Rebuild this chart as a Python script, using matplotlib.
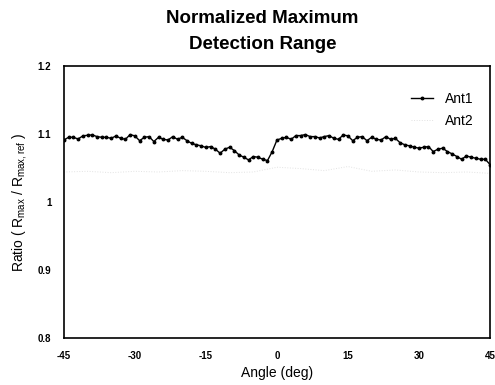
import matplotlib
matplotlib.use("Agg")
import matplotlib.pyplot as plt
from matplotlib.ticker import FuncFormatter

plt.rcParams['font.family'] = ['Liberation Sans', 'DejaVu Sans']
plt.rcParams['axes.unicode_minus'] = False

# Ant1, 1 degree steps from -45 to 45
angle1 = list(range(-45, 46))
ant1 = [1.091, 1.095, 1.095, 1.0925, 1.097, 1.098, 1.0985, 1.096, 1.095, 1.095,
        1.0935, 1.097, 1.0935, 1.092, 1.099, 1.097, 1.090, 1.095, 1.096, 1.0887,
        1.095, 1.092, 1.091, 1.096, 1.092, 1.095, 1.090, 1.086, 1.084, 1.0824,
        1.080, 1.0814, 1.0775, 1.0716, 1.0775, 1.0804, 1.0755, 1.0691, 1.0657, 1.0618,
        1.0667, 1.0657, 1.0627, 1.0608, 1.074, 1.091, 1.0935, 1.095, 1.092, 1.0975,
        1.0975, 1.099, 1.096, 1.096, 1.094, 1.096, 1.0975, 1.0935, 1.092, 1.0985,
        1.097, 1.090, 1.095, 1.096, 1.090, 1.095, 1.092, 1.091, 1.096, 1.092,
        1.0935, 1.087, 1.084, 1.0824, 1.0804, 1.079, 1.0804, 1.0814, 1.074, 1.0775,
        1.079, 1.074, 1.0706, 1.0667, 1.0627, 1.0676, 1.0657, 1.0642, 1.0627, 1.0627,
        1.0549]

# Ant2, faint trace in the scan
angle2 = list(range(-45, 46, 5))
ant2 = [1.044, 1.045, 1.043, 1.045, 1.044, 1.046, 1.045, 1.043, 1.044, 1.051,
        1.049, 1.046, 1.052, 1.045, 1.047, 1.044, 1.043, 1.044, 1.042]

xticks = [-45, -30, -15, 0, 15, 30, 45]
yticks = [0.8, 0.9, 1.0, 1.1, 1.2]

fig = plt.figure(figsize=(4.95, 3.85), dpi=100)
ax = fig.add_axes([0.129, 0.122, 0.861, 0.707])

ax.plot(angle1, ant1, color='black', marker='o', markersize=1.8, linewidth=1.0, label='Ant1')
ax.plot(angle2, ant2, color='#e2e2e2', linestyle=':', linewidth=0.7, label='Ant2')

ax.set_xlim(-45, 45)
ax.set_ylim(0.8, 1.2)
ax.set_xticks(xticks)
ax.set_yticks(yticks)
ax.yaxis.set_major_formatter(FuncFormatter(lambda v, p: '1' if abs(v - 1) < 1e-9 else '%.1f' % v))
ax.tick_params(length=0, labelsize=7, pad=9)
for lab in ax.get_xticklabels() + ax.get_yticklabels():
    lab.set_fontweight('bold')
for s in ax.spines.values():
    s.set_linewidth(1.2)

ax.set_xlabel('Angle (deg)', fontsize=10, labelpad=4)
ax.set_ylabel(r'Ratio ( R$\mathregular{_{max}}$ / R$\mathregular{_{max,ref}}$ )', fontsize=10, labelpad=6)

fig.suptitle('Normalized Maximum\nDetection Range', x=0.53, y=0.975, fontsize=13.5,
             fontweight='bold', linespacing=1.75)

ax.legend(loc='upper right', frameon=False, fontsize=10, handlelength=1.6,
          bbox_to_anchor=(0.99, 0.95), labelspacing=0.6)

fig.savefig('out.png', dpi=100, facecolor='white')
